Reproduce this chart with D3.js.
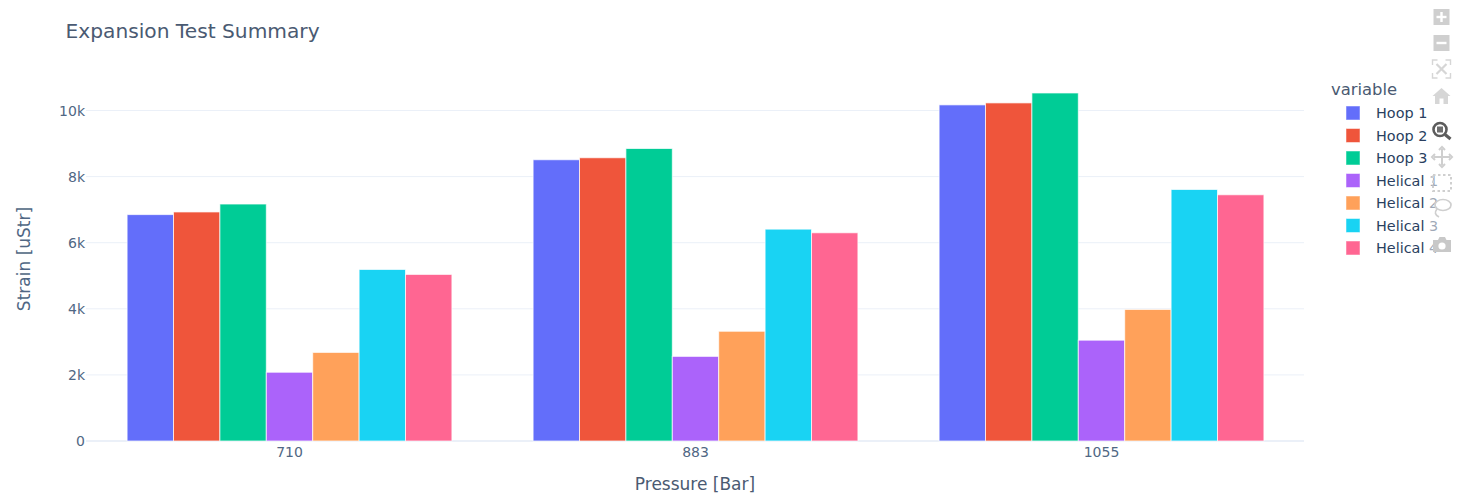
<!DOCTYPE html>
<html><head><meta charset="utf-8">
<script src="https://cdn.jsdelivr.net/npm/d3@7/dist/d3.min.js"></script>
<style>html,body{margin:0;padding:0;background:#fff;overflow:hidden}svg{display:block}text{font-family:"DejaVu Sans",Verdana,sans-serif}</style>
</head><body><svg id="c" width="1466" height="498"></svg>
<script>
const categories=["710","883","1055"];
const seriesNames=["Hoop 1","Hoop 2","Hoop 3","Helical 1","Helical 2","Helical 3","Helical 4"];
const seriesColors=["#636efa","#EF553B","#00cc96","#ab63fa","#FFA15A","#19d3f3","#FF6692"];
const hoop1=[6850,8510,10170];
const hoop2=[6930,8570,10230];
const hoop3=[7170,8850,10530];
const helical1=[2080,2560,3050];
const helical2=[2680,3320,3980];
const helical3=[5190,6410,7610];
const helical4=[5040,6300,7450];
const seriesValues=[hoop1,hoop2,hoop3,helical1,helical2,helical3,helical4];
const yTicks=[0,2000,4000,6000,8000,10000];
const yLabels=["0","2k","4k","6k","8k","10k"];

const textCol="#506784", titleCol="#4a5a72";
const svg=d3.select("#c");
const x0=d3.scaleBand().domain(categories).range([86.5,1304.5]).padding(0);
const xi=d3.scaleBand().domain(seriesNames).range([0,x0.bandwidth()*0.8]);
const y=d3.scaleLinear().domain([0,10000]).range([441,110.5]);

const grid=svg.append("g");
grid.selectAll("line").data(yTicks.slice(1)).join("line")
 .attr("x1",86).attr("x2",1304).attr("y1",d=>y(d)).attr("y2",d=>y(d))
 .attr("stroke","#ebf0f8").attr("stroke-width",1);
grid.append("line").attr("x1",86).attr("x2",1304).attr("y1",y(0)).attr("y2",y(0)).attr("stroke","#ebf0f8").attr("stroke-width",2);

const groups=svg.append("g").selectAll("g").data(seriesNames).join("g").attr("fill",(d,i)=>seriesColors[i]);
groups.selectAll("rect").data((d,i)=>seriesValues[i].map((v,j)=>({v,c:categories[j],s:d}))).join("rect")
 .attr("x",d=>x0(d.c)+x0.bandwidth()*0.1+xi(d.s))
 .attr("width",xi.bandwidth())
 .attr("y",d=>y(d.v)).attr("height",d=>y(0)-y(d.v))
 .attr("stroke","#fff").attr("stroke-opacity",0.7).attr("stroke-width",1);

const ya=svg.append("g");
ya.selectAll("text").data(yTicks).join("text").attr("x",85).attr("y",d=>y(d)+5).attr("text-anchor","end")
 .attr("font-size",14).attr("fill",textCol).text((d,i)=>yLabels[i]);
const xa=svg.append("g");
xa.selectAll("text").data(categories).join("text").attr("x",d=>x0(d)+x0.bandwidth()/2).attr("y",457).attr("text-anchor","middle")
 .attr("font-size",14).attr("fill",textCol).text(d=>d);

svg.append("text").attr("x",65.5).attr("y",38).attr("font-size",20.2).attr("fill",titleCol).text("Expansion Test Summary");
svg.append("text").attr("x",695).attr("y",490).attr("text-anchor","middle").attr("font-size",17).attr("fill",titleCol).text("Pressure [Bar]");
svg.append("text").attr("transform","translate(30,259) rotate(-90)").attr("text-anchor","middle").attr("font-size",17).attr("fill",textCol).text("Strain [uStr]");

svg.append("text").attr("x",1331).attr("y",95).attr("font-size",16.4).attr("fill",titleCol).text("variable");
const lg=svg.append("g").selectAll("g").data(seriesNames).join("g").attr("transform",(d,i)=>`translate(0,${113+i*22.5})`);
lg.append("rect").attr("x",1346).attr("y",-7).attr("width",14).attr("height",14).attr("fill",(d,i)=>seriesColors[i]).attr("stroke","#fff").attr("stroke-opacity",.5);
lg.append("text").attr("x",1376).attr("y",5).attr("font-size",14.4).attr("fill","#2a3f5f").text(d=>d);

// modebar: translucent background over the legend, then the icons
svg.append("rect").attr("x",1428).attr("y",0).attr("width",38).attr("height",262).attr("fill","#fff").attr("fill-opacity",0.55);
const mb=svg.append("g").attr("fill","#cfcfcf");
function plusBtn(cy,plus){const g=mb.append("g").attr("transform",`translate(1441.5,${cy})`);
 g.append("rect").attr("x",-8).attr("y",-8).attr("width",16).attr("height",16);
 g.append("rect").attr("x",-5).attr("y",-1.2).attr("width",10).attr("height",2.4).attr("fill","#fff");
 if(plus)g.append("rect").attr("x",-1.2).attr("y",-5).attr("width",2.4).attr("height",10).attr("fill","#fff");}
plusBtn(17,true);plusBtn(43,false);
const as=mb.append("g").attr("transform","translate(1441.5,69)").attr("fill","none").attr("stroke","#d6d6d6").attr("stroke-width",1.4);
as.append("path").attr("d","M-9,-4V-9H-4M4,-9H9V-4M9,4V9H4M-4,9H-9V4");
as.append("path").attr("stroke-width",2.2).attr("d","M-5,-5L5,5M5,-5L-5,5");
mb.append("path").attr("transform","translate(1441.5,96)").attr("fill","#d6d6d6").attr("d","M0,-8L9,0H6.5V8H2V2.5H-2V8H-6.5V0H-9Z");
const zm=mb.append("g").attr("transform","translate(1441,130.5)");
zm.append("circle").attr("cx",-1).attr("cy",-1).attr("r",6.5).attr("fill","none").attr("stroke","#5c5c5c").attr("stroke-width",2.6);
zm.append("rect").attr("x",-4).attr("y",-4).attr("width",6).attr("height",6).attr("fill","#6e6e6e");
zm.append("path").attr("d","M4,4L9.5,8.5").attr("stroke","#5c5c5c").attr("stroke-width",3.2);
mb.append("path").attr("transform","translate(1442,157)").attr("fill","none").attr("stroke","#cfcfcf").attr("stroke-width",2)
 .attr("d","M-8,0H8M0,-8V8M-7,-3L-10,0L-7,3M7,-3L10,0L7,3M-3,-7L0,-10L3,-7M-3,7L0,10L3,7");
mb.append("rect").attr("x",1433).attr("y",175).attr("width",18).attr("height",16).attr("fill","none").attr("stroke","#cfcfcf").attr("stroke-width",2).attr("stroke-dasharray","2.5 2.5");
const la=mb.append("g").attr("transform","translate(1442,207)").attr("fill","none").attr("stroke","#cfcfcf").attr("stroke-width",1.7);
la.append("ellipse").attr("cx",1).attr("cy",-2).attr("rx",8).attr("ry",5.5);
la.append("path").attr("d","M-5,2Q-9,7 -3,10");
const cam=mb.append("g").attr("transform","translate(1442,245)");
cam.append("path").attr("fill","#c8c8c8").attr("d","M-9,-5H-4L-2.5,-8H3L4.5,-5H9V7H-9Z");
cam.append("circle").attr("cx",0).attr("cy",1).attr("r",3.6).attr("fill","#fff");
</script></body></html>
